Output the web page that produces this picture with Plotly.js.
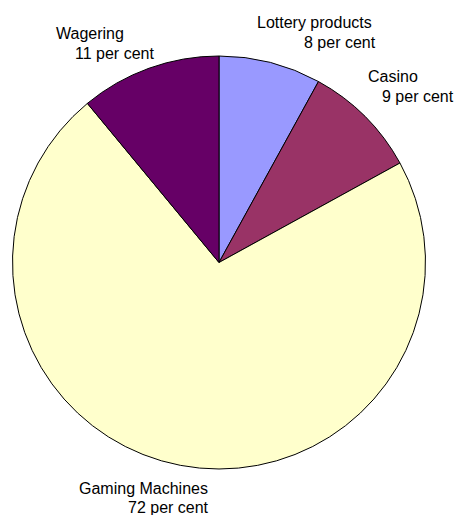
<!DOCTYPE html>
<html>
<head>
<meta charset="utf-8">
<script src="https://cdn.plot.ly/plotly-3.0.1.min.js"></script>
<style>html,body{margin:0;padding:0;background:#fff;}#chart{width:455px;height:515px;}</style>
</head>
<body>
<div id="chart"></div>
<script>
const categories = ["Lottery products", "Casino", "Gaming Machines", "Wagering"];
const shares = [8, 9, 72, 11];
const sliceColors = ["#9999FF", "#993366", "#FFFFCC", "#660066"];

// label placement (pixels, converted to paper coordinates) for [name line, value line]
const W = 455, H = 515;
const labelPos = [
  [[257, 22], [304, 42]],
  [[368, 76], [382, 97]],
  [[79, 488], [128, 507]],
  [[56, 33], [75, 53]]
];

const annotations = [];
categories.forEach((c, i) => {
  const lines = [c, shares[i] + " per cent"];
  lines.forEach((t, j) => {
    annotations.push({
      text: t,
      xref: "paper", yref: "paper",
      x: labelPos[i][j][0] / W,
      y: 1 - labelPos[i][j][1] / H,
      xanchor: "left", yanchor: "middle",
      showarrow: false,
      borderpad: 0, borderwidth: 0,
      font: {family: "Liberation Sans, Arial, sans-serif", size: 16, color: "#000"}
    });
  });
});

const data = [{
  type: "pie",
  labels: categories,
  values: shares,
  sort: false,
  direction: "clockwise",
  rotation: 0,
  textinfo: "none",
  hoverinfo: "label+percent",
  marker: {colors: sliceColors, line: {color: "#000", width: 1}},
  domain: {x: [12 / W, 426 / W], y: [(H - 469) / H, (H - 56) / H]}
}];

const layout = {
  width: W, height: H,
  margin: {l: 0, r: 0, t: 0, b: 0},
  paper_bgcolor: "#fff",
  showlegend: false,
  annotations: annotations
};

Plotly.newPlot("chart", data, layout, {displayModeBar: false, staticPlot: true});
</script>
</body>
</html>
